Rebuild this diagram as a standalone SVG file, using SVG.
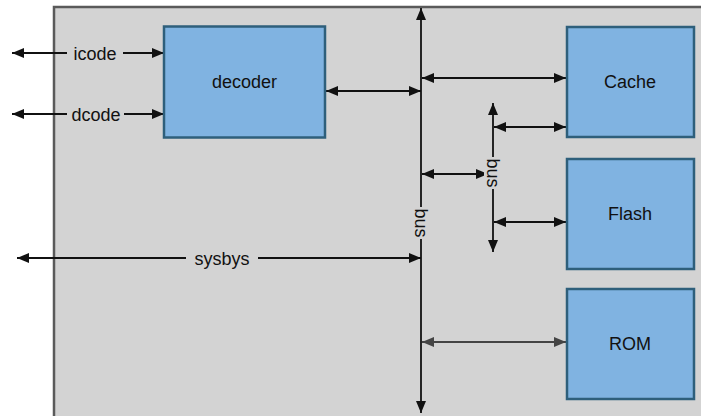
<svg xmlns="http://www.w3.org/2000/svg" width="701" height="416" viewBox="0 0 701 416">
<defs>
<style>
.node{fill:#80b3e1;stroke:#2e5f7b;stroke-width:2.5}
.lbl{font-family:"Liberation Sans",Arial,sans-serif;font-size:18px;fill:#111;text-anchor:middle}
.ln{stroke:#111;stroke-width:1.8;fill:none}
.bg{fill:#d3d3d3}
</style>
<marker id="ah" viewBox="0 0 12 10" refX="12" refY="5" markerWidth="12" markerHeight="10" markerUnits="userSpaceOnUse" orient="auto-start-reverse">
<path d="M0,0 L12,5 L0,10 z" fill="#111"/>
</marker>
<marker id="ahg" viewBox="0 0 12 10" refX="12" refY="5" markerWidth="12" markerHeight="10" markerUnits="userSpaceOnUse" orient="auto-start-reverse">
<path d="M0,0 L12,5 L0,10 z" fill="#444"/>
</marker>
</defs>
<rect id="container" x="54" y="7" width="720" height="430" fill="#d3d3d3" stroke="#5a5a5a" stroke-width="2.5"/>
<g id="connectors">
<line class="ln" x1="421" y1="8" x2="421" y2="413" marker-start="url(#ah)" marker-end="url(#ah)"/>
<line class="ln" x1="493" y1="103" x2="493" y2="252" marker-start="url(#ah)" marker-end="url(#ah)"/>
<line class="ln" x1="12" y1="53" x2="164" y2="53" marker-start="url(#ah)" marker-end="url(#ah)"/>
<line class="ln" x1="12" y1="114" x2="164" y2="114" marker-start="url(#ah)" marker-end="url(#ah)"/>
<line class="ln" x1="17" y1="258" x2="421" y2="258" marker-start="url(#ah)" marker-end="url(#ah)"/>
<line class="ln" x1="326" y1="91" x2="421" y2="91" marker-start="url(#ah)" marker-end="url(#ah)"/>
<line class="ln" x1="422" y1="78" x2="566" y2="78" marker-start="url(#ah)" marker-end="url(#ah)"/>
<line class="ln" x1="422" y1="174" x2="488" y2="174" marker-start="url(#ah)" marker-end="url(#ah)"/>
<line class="ln" x1="494" y1="127" x2="566" y2="127" marker-start="url(#ah)" marker-end="url(#ah)"/>
<line class="ln" x1="494" y1="222" x2="566" y2="222" marker-start="url(#ah)" marker-end="url(#ah)"/>
<line x1="422" y1="342" x2="566" y2="342" stroke="#444" stroke-width="1.8" marker-start="url(#ahg)" marker-end="url(#ahg)"/>
<rect class="bg" x="67" y="43" width="56" height="21"/>
<text class="lbl" x="95" y="60">icode</text>
<rect class="bg" x="67" y="104" width="57" height="21"/>
<text class="lbl" x="96" y="121">dcode</text>
<rect class="bg" x="186" y="247" width="72" height="22"/>
<text class="lbl" x="222" y="265">sysbys</text>
<rect class="bg" x="411" y="207" width="20" height="32"/>
<text class="lbl" transform="translate(421,223) rotate(90)" x="0" y="6">bus</text>
<rect class="bg" x="484" y="157" width="19" height="32"/>
<text class="lbl" transform="translate(493,173) rotate(90)" x="0" y="6">bus</text>
</g>
<g id="decoder">
<rect class="node" x="164" y="26.5" width="161" height="111"/>
<text class="lbl" x="244.5" y="88">decoder</text>
</g>
<g id="cache">
<rect class="node" x="567" y="27" width="127" height="110"/>
<text class="lbl" x="630" y="88">Cache</text>
</g>
<g id="flash">
<rect class="node" x="567" y="159" width="127" height="110"/>
<text class="lbl" x="630" y="220">Flash</text>
</g>
<g id="rom">
<rect class="node" x="567" y="289" width="127" height="110"/>
<text class="lbl" x="630" y="350">ROM</text>
</g>
</svg>
